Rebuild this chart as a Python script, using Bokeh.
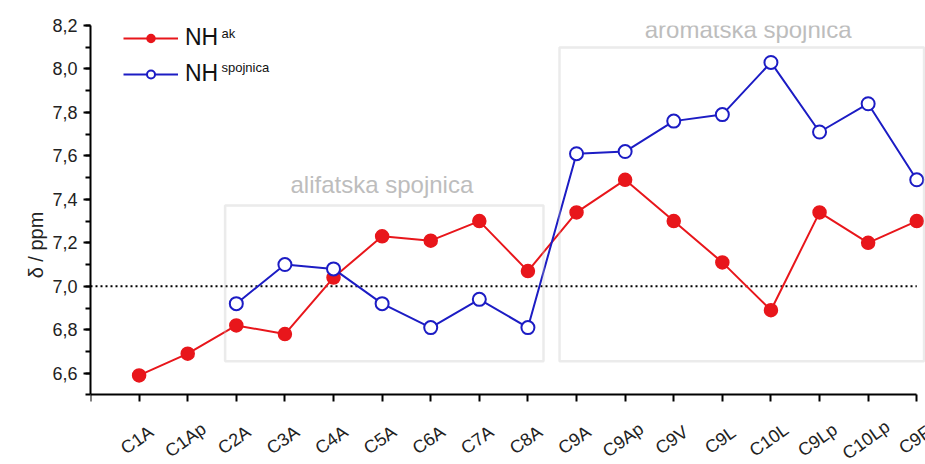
from bokeh.plotting import figure
from bokeh.models import (FixedTicker, Range1d, BoxAnnotation, Label,
                          Legend, LegendItem)
from bokeh.embed import file_html
from bokeh.resources import INLINE

categories = ["C1A", "C1Ap", "C2A", "C3A", "C4A", "C5A", "C6A", "C7A", "C8A",
              "C9A", "C9Ap", "C9V", "C9L", "C10L", "C9Lp", "C10Lp", "C9F"]
nh_ak = [6.59, 6.69, 6.82, 6.78, 7.04, 7.23, 7.21, 7.30, 7.07,
         7.34, 7.49, 7.30, 7.11, 6.89, 7.34, 7.20, 7.30]
spoj_categories = ["C2A", "C3A", "C4A", "C5A", "C6A", "C7A", "C8A",
                   "C9A", "C9Ap", "C9V", "C9L", "C10L", "C9Lp", "C10Lp", "C9F"]
nh_spojnica = [6.92, 7.10, 7.08, 6.92, 6.81, 6.94, 6.81,
               7.61, 7.62, 7.76, 7.79, 8.03, 7.71, 7.84, 7.49]
y_ticks = [6.6, 6.8, 7.0, 7.2, 7.4, 7.6, 7.8, 8.0, 8.2]
reference_level = 7.0

xpos = {c: i + 1 for i, c in enumerate(categories)}
x_ak = [xpos[c] for c in categories]
x_sp = [xpos[c] for c in spoj_categories]
N = len(categories)

FONT = "Liberation Sans"
RED = "#e8161b"
BLUE = "#1c1cc4"
GRAY = "#bdbdbd"
Y_AXIS = 6.5       # where the x axis sits
Y_TOP = 8.2
Y_FRAME_BOTTOM = 6.18  # frame extends below the axis to hold the rotated labels
X_FRAME_RIGHT = N + 0.18

p = figure(width=925, height=464, output_backend="svg", toolbar_location=None,
           x_range=Range1d(0, X_FRAME_RIGHT), y_range=Range1d(Y_FRAME_BOTTOM, Y_TOP),
           min_border_left=90, min_border_right=0, min_border_top=25, min_border_bottom=0)
p.outline_line_color = None
p.xgrid.visible = False
p.ygrid.visible = False
p.background_fill_color = "white"
p.border_fill_color = "white"

# x axis pinned at y = 6.5
p.xaxis.fixed_location = Y_AXIS
p.xaxis.bounds = (0, N)
p.xaxis.ticker = FixedTicker(ticks=list(range(0, N + 1)))
p.xaxis.major_label_overrides = {i: "" for i in range(0, N + 1)}
p.xaxis.major_label_text_font_size = "1px"
p.xaxis.minor_tick_line_color = None
p.xaxis.major_tick_in = 0
p.xaxis.major_tick_out = 7
p.xaxis.axis_line_width = 2
p.xaxis.major_tick_line_width = 2

for c in categories:
    p.add_layout(Label(x=xpos[c], y=Y_AXIS, text=c, angle=0.62,
                       x_offset=-2, y_offset=-45, text_align="center", text_baseline="middle",
                       text_font=FONT, text_font_size="18px", text_color="#222222"))

# y axis
p.yaxis.bounds = (Y_AXIS, Y_TOP)
p.yaxis.ticker = FixedTicker(ticks=y_ticks,
                             minor_ticks=[round(Y_AXIS + 0.1 * i, 1) for i in range(0, 18)])
p.yaxis.major_label_overrides = {t: f"{t:.1f}".replace(".", ",") for t in y_ticks}
p.yaxis.major_label_text_font = FONT
p.yaxis.major_label_text_font_size = "18px"
p.yaxis.major_label_text_color = "#222222"
p.yaxis.major_label_standoff = 6
p.yaxis.major_tick_in = 0
p.yaxis.major_tick_out = 7
p.yaxis.minor_tick_in = 0
p.yaxis.minor_tick_out = 5
p.yaxis.axis_line_width = 2
p.yaxis.major_tick_line_width = 2
p.yaxis.minor_tick_line_width = 2
p.yaxis.axis_label = "δ / ppm"
p.yaxis.axis_label_text_font = FONT
p.yaxis.axis_label_text_font_style = "normal"
p.yaxis.axis_label_text_font_size = "20px"
p.yaxis.axis_label_text_color = "#222222"
p.yaxis.axis_label_standoff = 2

# reference line
p.line([0, N], [reference_level, reference_level], line_color="black",
       line_dash="2 3", line_width=2)

# boxes
ali_box = dict(left=2.77, right=9.32, bottom=6.655, top=7.372)
aro_box = dict(left=9.65, right=17.15, bottom=6.655, top=8.099)
for b in (ali_box, aro_box):
    p.add_layout(BoxAnnotation(**b, fill_alpha=0, line_color=GRAY, line_width=2.5))
p.add_layout(Label(x=(ali_box["left"] + ali_box["right"]) / 2 - 0.05, y=ali_box["top"] + 0.035,
                   text="alifatska spojnica", text_align="center", text_baseline="bottom",
                   text_font=FONT, text_font_size="24px", text_color=GRAY))
p.add_layout(Label(x=(aro_box["left"] + aro_box["right"]) / 2 + 0.13, y=aro_box["top"] + 0.02,
                   text="aromatska spojnica", text_align="center", text_baseline="bottom",
                   text_font=FONT, text_font_size="24px", text_color=GRAY))

# series
l1 = p.line(x_ak, nh_ak, line_color=RED, line_width=2)
s1 = p.scatter(x_ak, nh_ak, size=13, fill_color=RED, line_color=RED, line_width=1.5)
l2 = p.line(x_sp, nh_spojnica, line_color=BLUE, line_width=2)
s2 = p.scatter(x_sp, nh_spojnica, size=13, fill_color="white", line_color=BLUE, line_width=2)

legend = Legend(items=[LegendItem(label="NH", renderers=[l1, s1]),
                       LegendItem(label="NH", renderers=[l2, s2])],
                location=(33, 377), glyph_width=55, glyph_height=20, label_height=20,
                spacing=9, padding=0, margin=0, label_standoff=7,
                label_text_font=FONT, label_text_font_size="23px", label_text_color="#111111",
                border_line_color=None, background_fill_alpha=0)
p.add_layout(legend)
p.add_layout(Label(x=131, y=431, x_units="screen", y_units="screen", text="ak",
                   text_font=FONT, text_font_size="13px", text_color="#111111",
                   text_baseline="alphabetic"))
p.add_layout(Label(x=131, y=397, x_units="screen", y_units="screen", text="spojnica",
                   text_font=FONT, text_font_size="13px", text_color="#111111",
                   text_baseline="alphabetic"))

open("out.html", "w").write(file_html(p, INLINE))
